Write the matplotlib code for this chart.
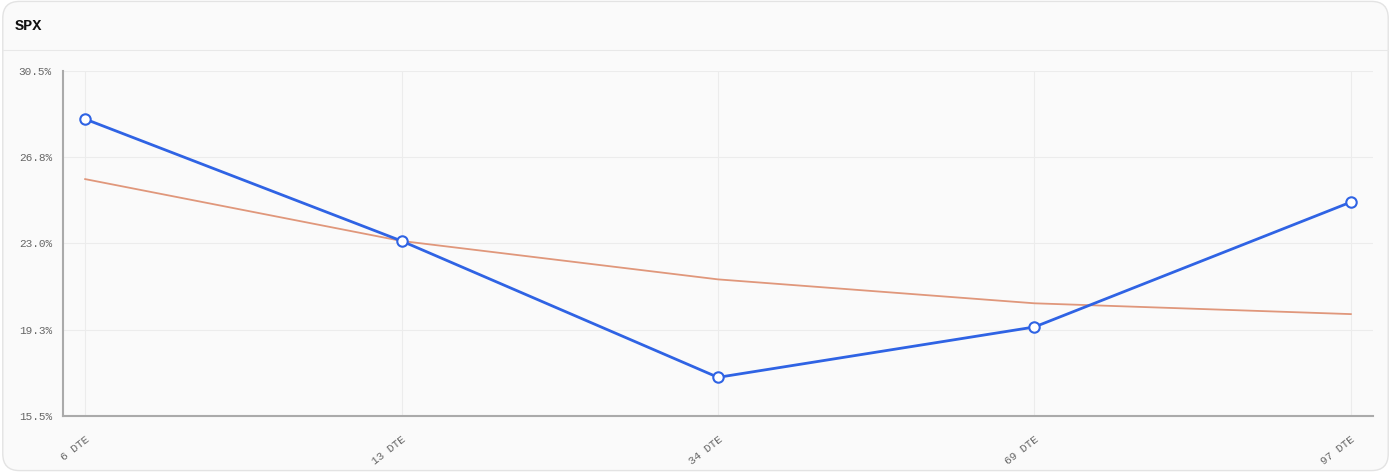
import numpy as np
from matplotlib import pyplot as plt
from matplotlib.patches import FancyBboxPatch
from matplotlib.lines import Line2D
from matplotlib.ticker import FuncFormatter


categories = ["6 DTE", "13 DTE", "34 DTE", "69 DTE", "97 DTE"]
iv_values = [28.41, 23.11, 17.18, 19.37, 24.80]
fit_values = [25.80, 23.11, 21.44, 20.40, 19.93]
y_ticks = [15.5, 19.25, 23.0, 26.75, 30.5]

mono = ["Liberation Mono", "Courier New", "DejaVu Sans Mono"]
plt.rcParams["font.family"] = mono

fig = plt.figure(figsize=(13.91, 4.72), dpi=100)
fig.patch.set_facecolor("white")

# card background
card = FancyBboxPatch((0.002, 0.003), 0.996, 0.994,
                      boxstyle="round,pad=0,rounding_size=0.012",
                      transform=fig.transFigure, facecolor="#fafafa",
                      edgecolor="#e3e3e3", linewidth=1.0, zorder=-10,
                      mutation_aspect=1391 / 472)
fig.patches.append(card)
fig.add_artist(Line2D([0.002, 0.998], [1 - 50 / 472, 1 - 50 / 472],
                      transform=fig.transFigure, color="#e8e8e8", linewidth=0.8,
                      zorder=-5))
fig.text(15 / 1391, 1 - 26.5 / 472, "SPX", fontweight="bold",
         fontsize=11, color="#111111", va="center", ha="left")

ax = fig.add_axes([63 / 1391, 1 - 416 / 472, 1310 / 1391, 345 / 472])
ax.set_zorder(5)
ax.set_facecolor("#fafafa")

x_pos = np.arange(len(categories))
ax.plot(x_pos, fit_values, color="#e0977b", linewidth=1.3, zorder=2)
ax.plot(x_pos, iv_values, color="#2f63e4", linewidth=2.0, zorder=3,
        marker="o", markersize=7.5, markerfacecolor="white",
        markeredgecolor="#2f63e4", markeredgewidth=1.5)

ax.set_xlim(-0.07, 4.07)
ax.set_ylim(15.5, 30.5)
ax.set_yticks(y_ticks)
ax.yaxis.set_major_formatter(FuncFormatter(lambda v, p: "%.1f%%" % (v + 1e-9)))
ax.set_xticks(x_pos)
ax.set_xticklabels(categories)

ax.grid(True, color="#ececec", linewidth=0.8)
ax.set_axisbelow(True)
for side in ["top", "right"]:
    ax.spines[side].set_visible(False)
for side in ["left", "bottom"]:
    ax.spines[side].set_color("#aaaaaa")
    ax.spines[side].set_linewidth(1.5)

ax.tick_params(axis="both", length=0, colors="#666666", labelsize=8)
ax.tick_params(axis="y", pad=8)
ax.tick_params(axis="x", pad=13)
for lab in ax.get_xticklabels():
    lab.set_rotation(38)
    lab.set_ha("right")
    lab.set_va("top")
    lab.set_rotation_mode("anchor")

fig.savefig("out.png", dpi=100, facecolor="white")
